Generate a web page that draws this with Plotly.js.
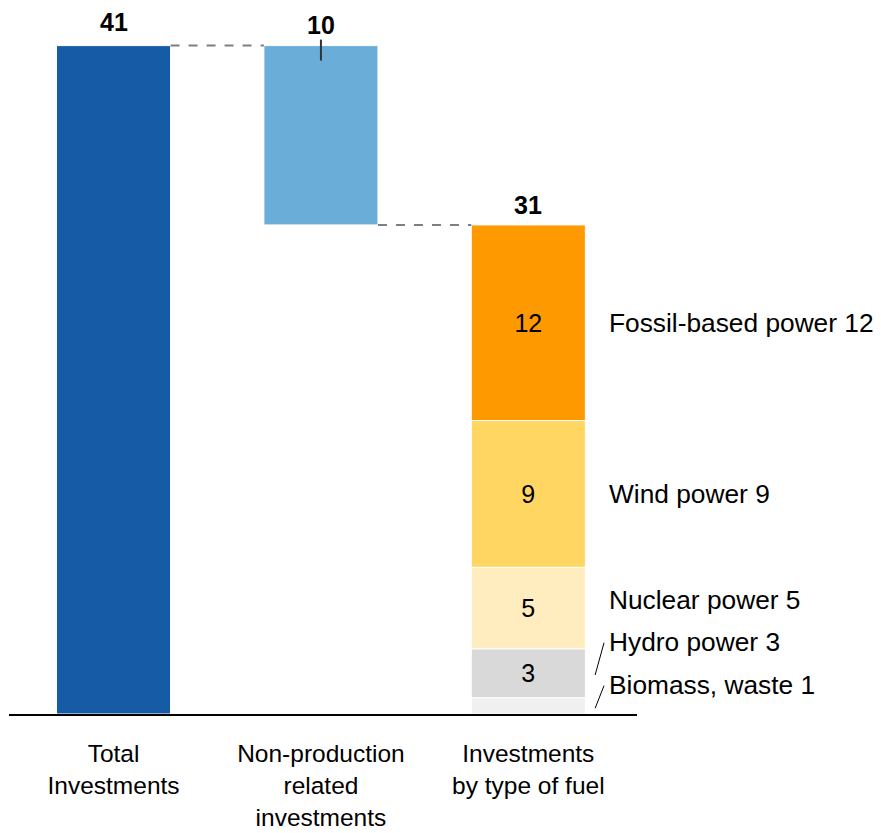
<!DOCTYPE html>
<html>
<head>
<meta charset="utf-8">
<script src="https://cdn.plot.ly/plotly-3.0.1.min.js"></script>
<style>html,body{margin:0;padding:0;background:#fff;}#chart{width:881px;height:833px;}</style>
</head>
<body>
<div id="chart"></div>
<script>
// ---- data ----
const categories = ["Total<br>Investments", "Non-production<br>related<br>investments", "Investments<br>by type of fuel"];
const totalInvestments = 41;
const nonProduction = 10;
const byFuelTotal = 31;
const fuelNames = ["Biomass, waste", "Hydro power", "Nuclear power", "Wind power", "Fossil-based power"];
const fuelValues = [1, 3, 5, 9, 12];
const fuelColors = ["#F0F0F0", "#D9D9D9", "#FFEDBF", "#FFD662", "#FF9900"];

const F = '"Liberation Sans", Arial, sans-serif';
const W = 0.55;
const traces = [];

// total bar
traces.push({type:'bar', x:[0], y:[totalInvestments], base:[0], width:W,
  marker:{color:'#155BA5', line:{color:'#ffffff', width:1}}, hoverinfo:'skip'});

// stacked fuel segments
let cum = 0;
const bases = [];
fuelValues.forEach((v, i) => {
  bases.push(cum);
  traces.push({type:'bar', x:[2], y:[v], base:[cum], width:W,
    marker:{color:fuelColors[i], line:{color:'#ffffff', width:1}},
    text:[v >= 2 ? String(v) : ''], textposition:'inside', insidetextanchor:'middle',
    textfont:{family:F, size:25, color:'#000'}, constraintext:'none', hoverinfo:'skip'});
  cum += v;
});
const stackTop = cum;

// non-production bar (floating from stack top to total)
traces.push({type:'bar', x:[1], y:[totalInvestments - stackTop], base:[stackTop], width:W,
  marker:{color:'#6AADD9', line:{color:'#ffffff', width:1}}, hoverinfo:'skip'});

const ann = [];
// top value labels
ann.push({x:0, y:totalInvestments, xref:'x', yref:'y', text:'<b>'+totalInvestments+'</b>', showarrow:false, yanchor:'middle', yshift:24, font:{family:F, size:25, color:'#000'}});
ann.push({x:1, y:totalInvestments, xref:'x', yref:'y', text:'<b>'+nonProduction+'</b>', showarrow:false, yanchor:'middle', yshift:21, font:{family:F, size:25, color:'#000'}});
ann.push({x:2, y:stackTop, xref:'x', yref:'y', text:'<b>'+byFuelTotal+'</b>', showarrow:false, yanchor:'middle', yshift:20, font:{family:F, size:25, color:'#000'}});

// side labels
const labelShift = [21, 31, 8, 0, 0];
fuelValues.forEach((v, i) => {
  ann.push({x:2, y:bases[i] + v/2, xref:'x', yref:'y', text:fuelNames[i] + ' ' + v, showarrow:false,
    xanchor:'left', yanchor:'middle', xshift:79, yshift:labelShift[i], font:{family:F, size:26.3, color:'#000'}});
});

const shapes = [
  // dashed connectors
  {type:'line', xref:'x', yref:'y', x0:W/2, x1:1-W/2, y0:totalInvestments, y1:totalInvestments, line:{color:'#7f7f7f', width:2, dash:'dash'}},
  {type:'line', xref:'x', yref:'y', x0:1+W/2, x1:2-W/2, y0:stackTop, y1:stackTop, line:{color:'#7f7f7f', width:2, dash:'dash'}},
  // tick under "10"
  {type:'line', xref:'x', yref:'y', ysizemode:'pixel', yanchor:totalInvestments, x0:1, x1:1, y0:6, y1:-15, line:{color:'#333', width:2}},
  // leader lines for small segments
  {type:'line', xref:'x', yref:'y', x0:2.322, x1:2.365, y0:2.39, y1:4.37, line:{color:'#000', width:1}},
  {type:'line', xref:'x', yref:'y', x0:2.322, x1:2.365, y0:0.35, y1:1.74, line:{color:'#000', width:1}}
];

const layout = {
  width:881, height:833,
  margin:{l:9, r:244, t:13, b:119},
  paper_bgcolor:'#fff', plot_bgcolor:'#fff',
  barmode:'overlay', showlegend:false, hovermode:false,
  font:{family:F, color:'#000'},
  xaxis:{type:'linear', range:[-0.504, 2.524], tickvals:[0,1,2], ticktext:categories,
    showgrid:false, zeroline:false, showline:true, linecolor:'#000', linewidth:2,
    ticks:'', ticklabelstandoff:17, tickfont:{family:F, size:24.5, color:'#000'}, fixedrange:true},
  yaxis:{range:[0, 43], visible:false, showgrid:false, zeroline:false, fixedrange:true},
  annotations:ann, shapes:shapes
};

Plotly.newPlot('chart', traces, layout, {displayModeBar:false, staticPlot:true});
</script>
</body>
</html>
